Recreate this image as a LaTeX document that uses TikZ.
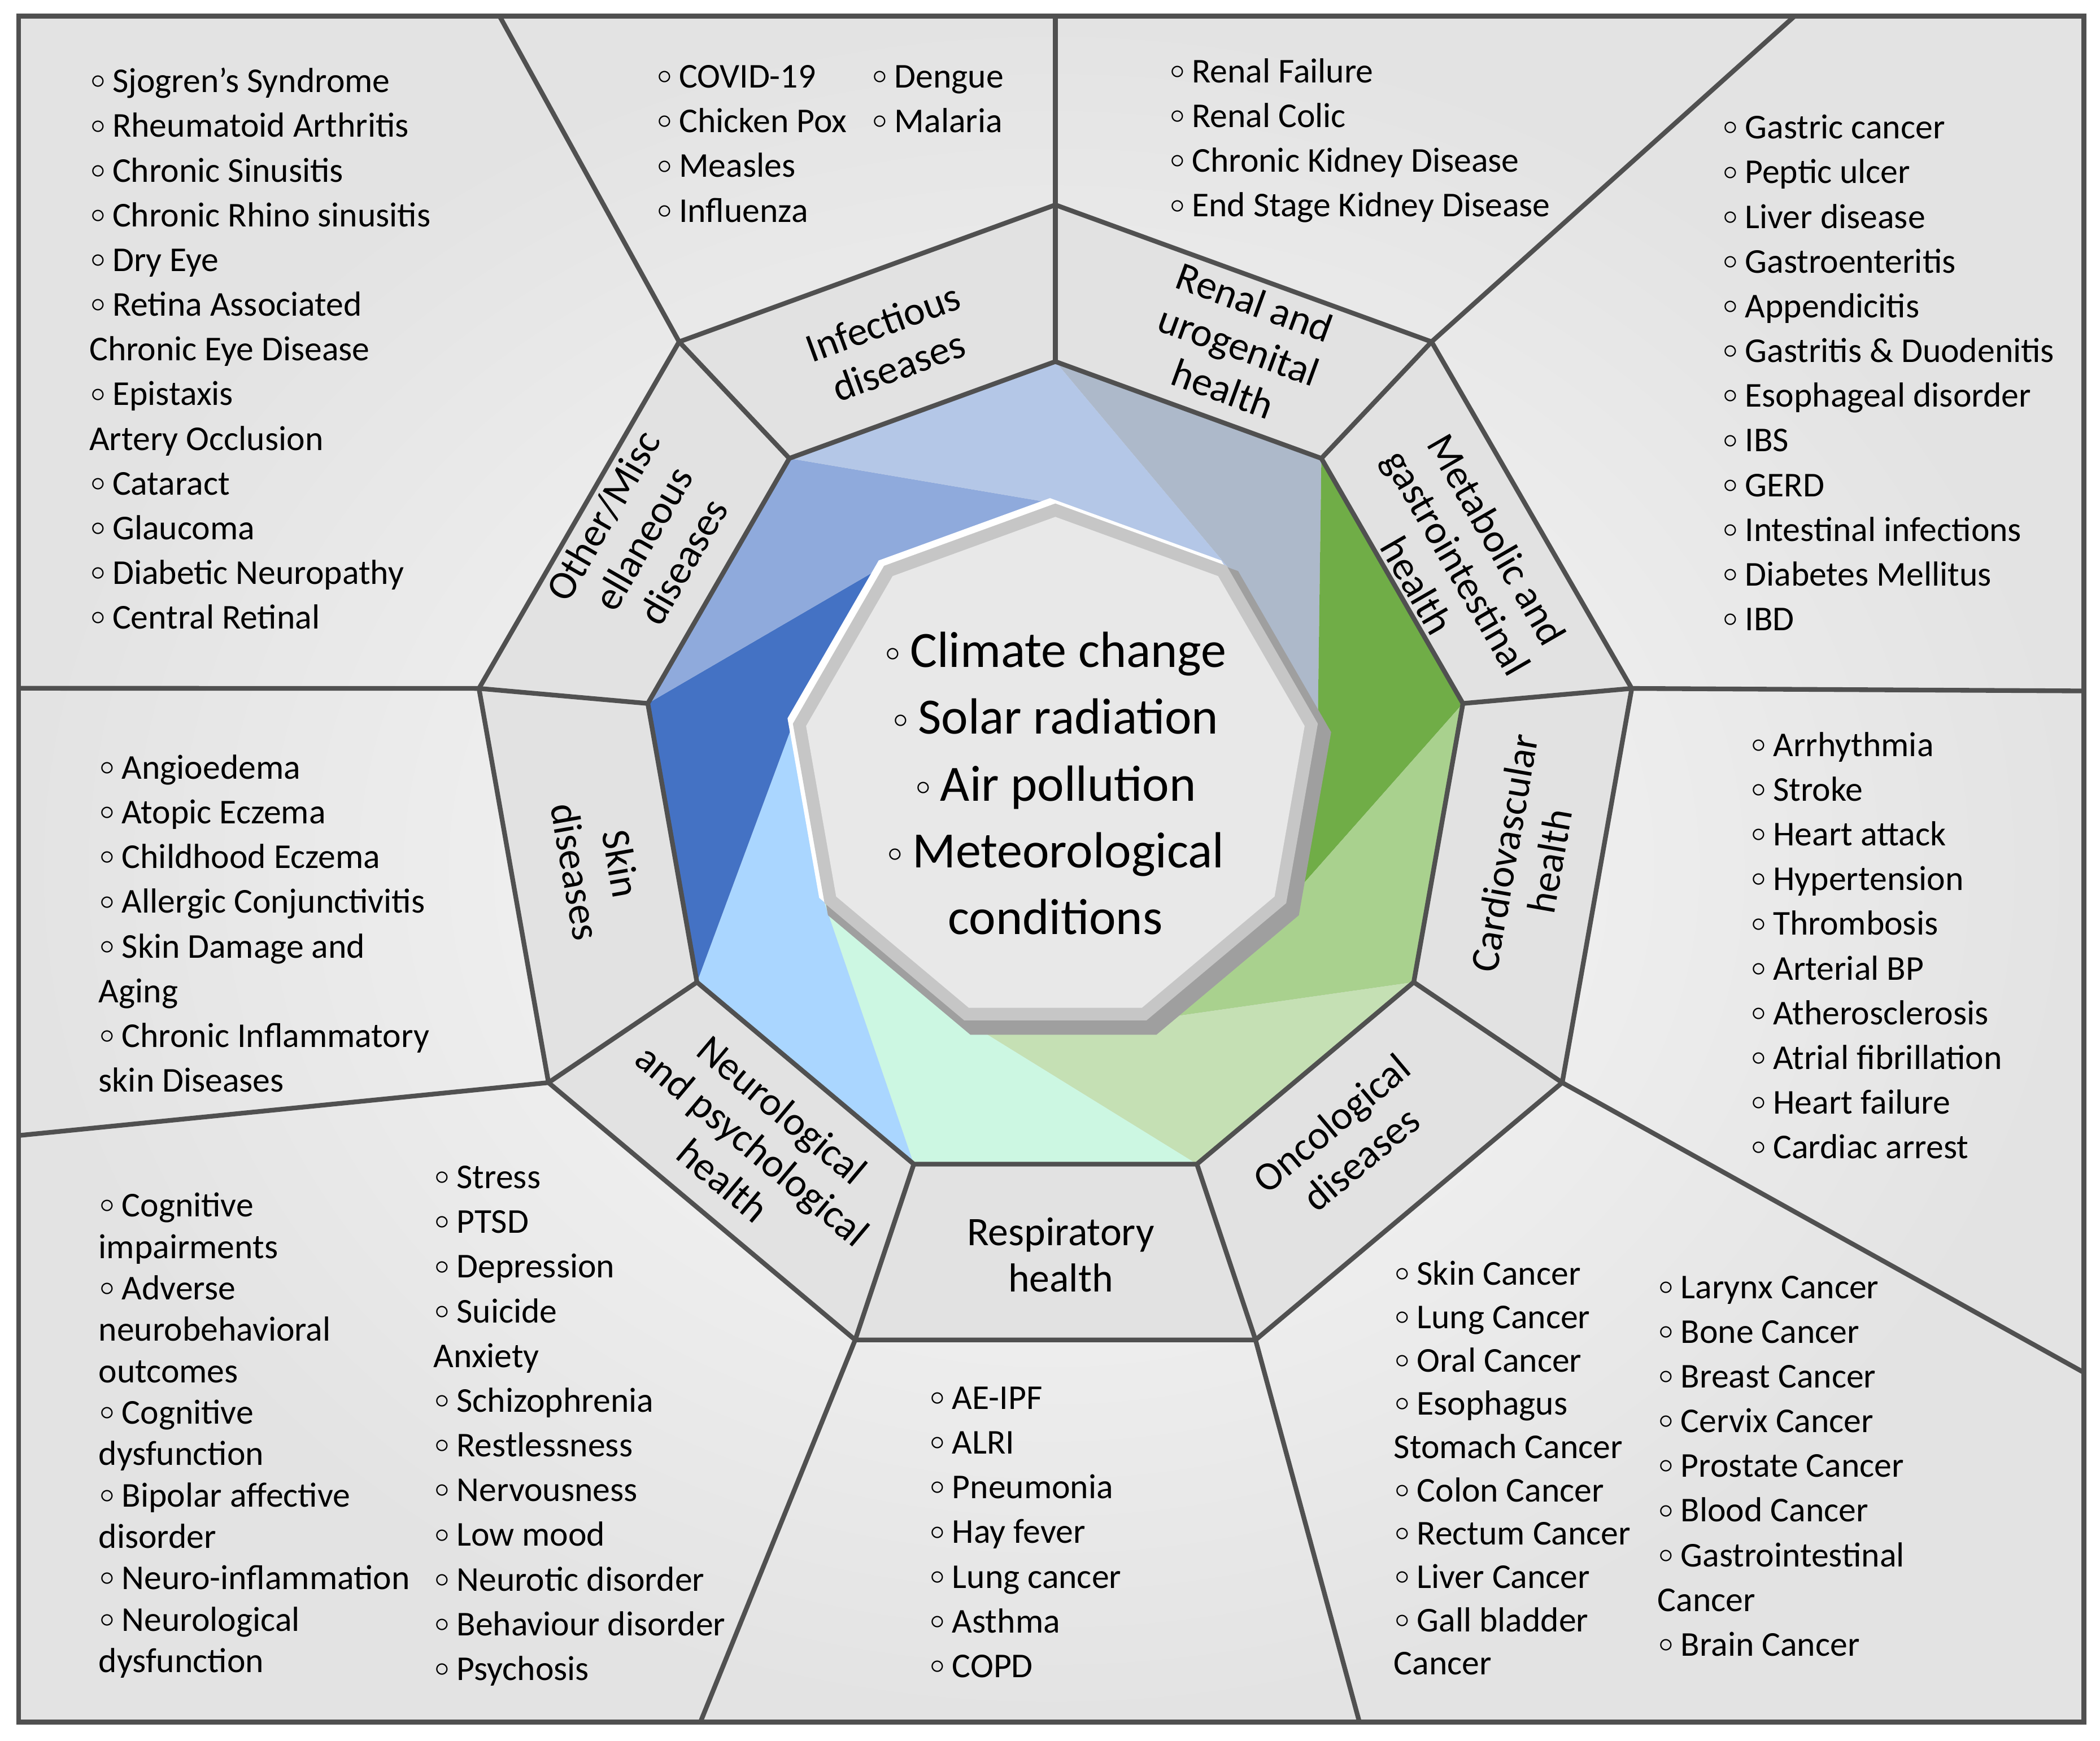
\documentclass[tikz,border=0pt]{standalone}
\usepackage{fontspec}
\setmainfont{Carlito}
\usetikzlibrary{calc,positioning}
\definecolor{lineGray}{HTML}{505050}
\definecolor{bandGray}{HTML}{E2E2E2}
\definecolor{cInf}{HTML}{B4C7E7}
\definecolor{cRen}{HTML}{ADB9CA}
\definecolor{cMet}{HTML}{70AD47}
\definecolor{cCar}{HTML}{A9D18E}
\definecolor{cOnc}{HTML}{C5E0B4}
\definecolor{cRes}{HTML}{CCF7E2}
\definecolor{cNeu}{HTML}{AAD6FF}
\definecolor{cSki}{HTML}{4472C4}
\definecolor{cOth}{HTML}{8FAADC}
\newcommand\bu{\raisebox{.3ex}{\tiny$\circ$}\,}
\begin{document}
\begin{tikzpicture}[x=0.1mm,y=-0.1mm]

\tikzset{
  sep/.style={draw=lineGray,line width=1pt},
  band label/.style={font=\fontsize{8.6}{9.8}\selectfont,align=center,inner sep=0pt},
  item list/.style={font=\fontsize{7.4}{9.5}\selectfont,align=left,anchor=north west,inner sep=0pt},
  tight list/.style={item list,font=\fontsize{7.4}{8.8}\selectfont}
}

\useasboundingbox (0,0) rectangle (1568,1300);
\shade[inner color=gray!4,outer color=gray!22] (14,12) rectangle (1556,1286);
\draw[sep] (14,12) rectangle (1556,1286);

\coordinate (co) at (788,590);
\coordinate (cp) at (788,579);
\coordinate (cq) at (788,575);
\foreach \k in {0,...,10}{
  \coordinate (O\k) at ($(co)+({-90+40*\k}:437)$);
  \coordinate (P\k) at ($(cp)+({-90+40*\k}:309)$);
  \coordinate (Q\k) at ($(cq)+({-90+40*\k}:199)$);
}

% outer band
\fill[bandGray] (O0)--(O1)--(O2)--(O3)--(O4)--(O5)--(O6)--(O7)--(O8)--cycle;

% pinwheel
\foreach \k/\col in {0/cRen,1/cMet,2/cCar,3/cOnc,4/cRes,5/cNeu,6/cSki,7/cOth,8/cInf}{
  \pgfmathtruncatemacro\ka{\k+1}
  \pgfmathtruncatemacro\kb{\k+2}
  \fill[\col] (P\k)--(P\ka)--(Q\kb)--(Q\ka)--cycle;
}

% central plate
\fill[gray!75] ($(cq)+(6,7)$) ++(-90:203) \foreach \k in {1,...,8}{ -- ($(cq)+(6,7)+({-90+40*\k}:203)$)} -- cycle;
\fill[white] ($(cq)+(-4,-4)$) ++(-90:199) \foreach \k in {1,...,8}{ -- ($(cq)+(-4,-4)+({-90+40*\k}:199)$)} -- cycle;
\fill[gray!45] (cq) ++(-90:199) \foreach \k in {1,...,8}{ -- ($(cq)+({-90+40*\k}:199)$)} -- cycle;
\fill[gray!18] (cq) ++(-90:189) \foreach \k in {1,...,8}{ -- ($(cq)+({-90+40*\k}:189)$)} -- cycle;

% ring outlines
\draw[sep] (O0)--(O1)--(O2)--(O3)--(O4)--(O5)--(O6)--(O7)--(O8)--cycle;
\draw[sep] (P0)--(P1)--(P2)--(P3)--(P4)--(P5)--(P6)--(P7)--(P8)--cycle;
\foreach \k in {0,...,8}{ \draw[sep] (O\k)--(P\k); }

% separators to frame
\coordinate (f0) at (788,12);
\coordinate (f1) at (1340,12);
\coordinate (f2) at (1556,516);
\coordinate (f3) at (1556,1025);
\coordinate (f4) at (1015,1286);
\coordinate (f5) at (523,1286);
\coordinate (f6) at (14,848);
\coordinate (f7) at (14,514);
\coordinate (f8) at (373,12);
\foreach \k in {0,...,8}{ \draw[sep] (O\k)--(f\k); }

% band labels
\node[band label,rotate=20] (lInf) at (665,257) {Infectious\\diseases};
\node[band label,rotate=-20] (lRen) at (925,258) {Renal and\\urogenital\\health};
\node[band label,rotate=-60] (lMet) at (1088,420) {Metabolic and\\gastrointestinal\\health};
\node[band label,rotate=80] (lCar) at (1140,640) {Cardiovascular\\health};
\node[band label,rotate=40] (lOnc) at (1005,852) {Oncological\\diseases};
\node[band label] (lRes) at (792,937) {Respiratory\\health};
\node[band label,rotate=-40] (lNeu) at (562,855) {Neurological\\and psychological\\health};
\node[band label,rotate=-80] (lSki) at (447,648) {Skin\\diseases};
\node[band label,rotate=60] (lOth) at (480,402) {Other/Misc\\ellaneous\\diseases};

% centre
\node[font=\fontsize{10.8}{14.2}\selectfont,align=center,inner sep=0pt] (drivers) at (788,585)
  {\bu Climate change\\\bu Solar radiation\\\bu Air pollution\\\bu Meteorological\\conditions};

% lists
\node[item list] (tOth) at (66,50) {\bu Sjogren’s Syndrome\\\bu Rheumatoid Arthritis\\\bu Chronic Sinusitis\\\bu Chronic Rhino sinusitis\\\bu Dry Eye\\\bu Retina Associated\\Chronic Eye Disease\\\bu Epistaxis\\Artery Occlusion\\\bu Cataract\\\bu Glaucoma\\\bu Diabetic Neuropathy\\\bu Central Retinal};
\node[item list] (tInfA) at (489,48) {\bu COVID-19\\\bu Chicken Pox\\\bu Measles\\\bu Influenza};
\node[item list] (tInfB) at (650,48) {\bu Dengue\\\bu Malaria};
\node[item list] (tRen) at (872,43) {\bu Renal Failure\\\bu Renal Colic\\\bu Chronic Kidney Disease\\\bu End Stage Kidney Disease};
\node[item list] (tMet) at (1285,85) {\bu Gastric cancer\\\bu Peptic ulcer\\\bu Liver disease\\\bu Gastroenteritis\\\bu Appendicitis\\\bu Gastritis \& Duodenitis\\\bu Esophageal disorder\\\bu IBS\\\bu GERD\\\bu Intestinal infections\\\bu Diabetes Mellitus\\\bu IBD};
\node[item list] (tCar) at (1306,546) {\bu Arrhythmia\\\bu Stroke\\\bu Heart attack\\\bu Hypertension\\\bu Thrombosis\\\bu Arterial BP\\\bu Atherosclerosis\\\bu Atrial fibrillation\\\bu Heart failure\\\bu Cardiac arrest};
\node[tight list,font=\fontsize{7.4}{9.2}\selectfont] (tOncA) at (1040,941) {\bu Skin Cancer\\\bu Lung Cancer\\\bu Oral Cancer\\\bu Esophagus\\Stomach Cancer\\\bu Colon Cancer\\\bu Rectum Cancer\\\bu Liver Cancer\\\bu Gall bladder\\Cancer};
\node[item list] (tOncB) at (1237,952) {\bu Larynx Cancer\\\bu Bone Cancer\\\bu Breast Cancer\\\bu Cervix Cancer\\\bu Prostate Cancer\\\bu Blood Cancer\\\bu Gastrointestinal\\Cancer\\\bu Brain Cancer};
\node[item list] (tRes) at (693,1035) {\bu AE-IPF\\\bu ALRI\\\bu Pneumonia\\\bu Hay fever\\\bu Lung cancer\\\bu Asthma\\\bu COPD};
\node[tight list] (tNeuA) at (73,890) {\bu Cognitive\\impairments\\\bu Adverse\\neurobehavioral\\outcomes\\\bu Cognitive\\dysfunction\\\bu Bipolar affective\\disorder\\\bu Neuro-inflammation\\\bu Neurological\\dysfunction};
\node[item list] (tNeuB) at (323,870) {\bu Stress\\\bu PTSD\\\bu Depression\\\bu Suicide\\Anxiety\\\bu Schizophrenia\\\bu Restlessness\\\bu Nervousness\\\bu Low mood\\\bu Neurotic disorder\\\bu Behaviour disorder\\\bu Psychosis};
\node[item list] (tSki) at (73,563) {\bu Angioedema\\\bu Atopic Eczema\\\bu Childhood Eczema\\\bu Allergic Conjunctivitis\\\bu Skin Damage and\\Aging\\\bu Chronic Inflammatory\\skin Diseases};

\end{tikzpicture}
\end{document}
